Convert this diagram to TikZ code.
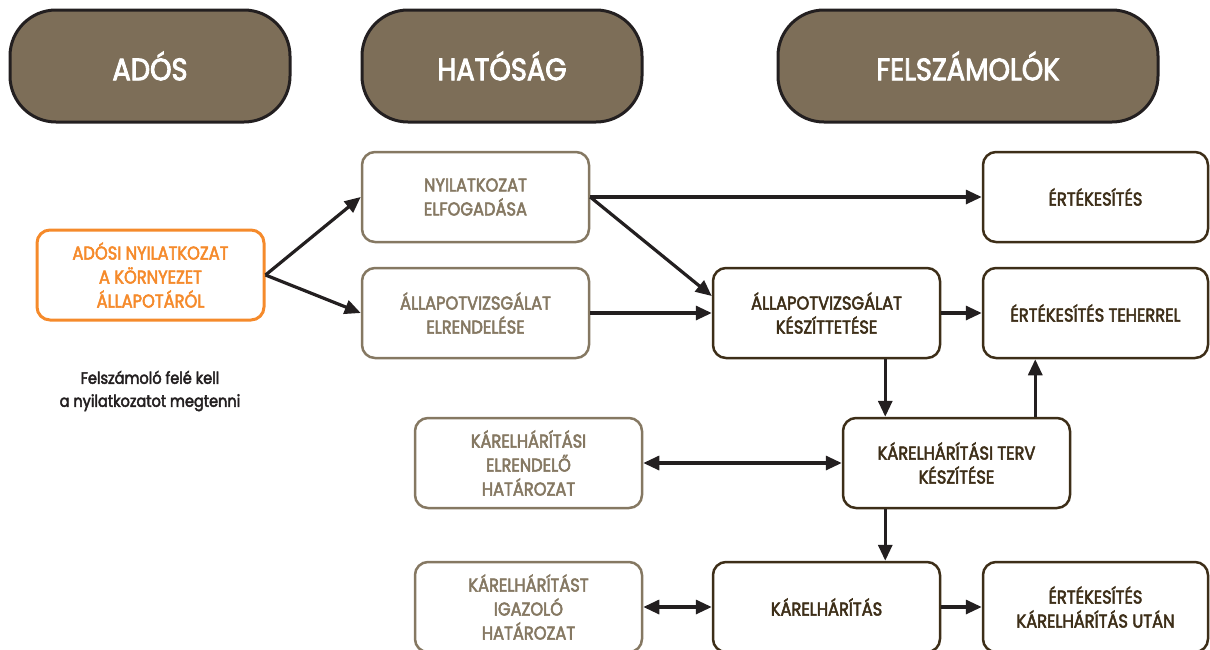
\documentclass[tikz,border=0pt]{standalone}
\usepackage{fontspec}
\setmainfont{Poppins}[FakeStretch=0.88]
\newfontfamily\medfont{Poppins}[FakeStretch=0.88,FakeBold=2.8]
\usetikzlibrary{arrows.meta}

\definecolor{headbrown}{HTML}{7D6E58}
\definecolor{lightbrown}{HTML}{857862}
\definecolor{darkbrown}{HTML}{3D2E18}
\definecolor{outline}{HTML}{231F20}
\definecolor{adosorange}{HTML}{F58A2B}

\begin{document}
\begin{tikzpicture}[x=1pt,y=1pt]
\tikzstyle{every node}+=[inner sep=0pt, align=center]
\tikzstyle{head}=[draw=outline, fill=headbrown, line width=3pt, rounded corners=46pt, minimum width=280pt, minimum height=112pt, text=white, font=\fontsize{31}{34}\medfont]
\tikzstyle{lightbox}=[draw=lightbrown, line width=2.5pt, rounded corners=13pt, minimum width=227pt, minimum height=90pt, text=lightbrown, font=\fontsize{18.5}{24}\medfont]
\tikzstyle{darkbox}=[lightbox, draw=darkbrown, text=darkbrown]
\tikzstyle{orangebox}=[lightbox, line width=3pt, draw=adosorange, text=adosorange]
\tikzstyle{arrow}=[line width=3.2pt, draw=outline, -{Triangle[length=16pt,width=14pt]}]
\tikzstyle{twoway}=[line width=3.2pt, draw=outline, {Triangle[length=16pt,width=14pt]}-{Triangle[length=16pt,width=14pt]}]
\useasboundingbox (0,0) rectangle (1210,-649);
% headers
\node [head] (hados) at (150,-66) {ADÓS};
\node [head] (hhat) at (502,-66) {HATÓSÁG};
\node [head, minimum width=380pt] (hfel) at (968,-66) {FELSZÁMOLÓK};
% adós
\node [orangebox] (nyilatkozat) at (150.5,-275) {ADÓSI NYILATKOZAT\\A KÖRNYEZET\\ÁLLAPOTÁRÓL};
\node [font=\fontsize{16.5}{23}\medfont, text=outline] (note) at (150,-391) {Felszámoló felé kell\\a nyilatkozatot megtenni};
% hatóság
\node [lightbox] (elfogadas) at (475.5,-197) {NYILATKOZAT\\ELFOGADÁSA};
\node [lightbox] (elrendeles) at (475.5,-313) {ÁLLAPOTVIZSGÁLAT\\ELRENDELÉSE};
\node [lightbox] (karelrend) at (528.5,-463) {KÁRELHÁRÍTÁSI\\ELRENDELŐ\\HATÁROZAT};
\node [lightbox] (karigazol) at (528.5,-607) {KÁRELHÁRÍTÁST\\IGAZOLÓ\\HATÁROZAT};
% felszámolók
\node [darkbox, minimum width=225pt] (ertek) at (1095.5,-197) {ÉRTÉKESÍTÉS};
\node [darkbox] (keszittet) at (826.5,-313) {ÁLLAPOTVIZSGÁLAT\\KÉSZÍTTETÉSE};
\node [darkbox, minimum width=225pt] (teherrel) at (1095.5,-313) {ÉRTÉKESÍTÉS TEHERREL};
\node [darkbox] (terv) at (956.5,-463) {KÁRELHÁRÍTÁSI TERV\\KÉSZÍTÉSE};
\node [darkbox] (karelh) at (826.5,-607) {KÁRELHÁRÍTÁS};
\node [darkbox, minimum width=225pt] (utan) at (1095.5,-607) {ÉRTÉKESÍTÉS\\KÁRELHÁRÍTÁS UTÁN};
% arrows
\draw [arrow] (nyilatkozat.east) -- (elfogadas.west);
\draw [arrow] (nyilatkozat.east) -- (elrendeles.west);
\draw [arrow] (elfogadas.east) -- (ertek.west);
\draw [arrow] (elfogadas.east) -- ([yshift=17pt]keszittet.west);
\draw [arrow] (elrendeles.east) -- (keszittet.west);
\draw [arrow] (keszittet.east) -- (teherrel.west);
\draw [arrow] ([xshift=-56pt]keszittet.south east) -- ([xshift=-56pt]keszittet.south east |- terv.north);
\draw [arrow] ([xshift=-36pt]terv.north east) -- ([xshift=-36pt]terv.north east |- teherrel.south);
\draw [twoway] (karelrend.east) -- (terv.west);
\draw [arrow] ([xshift=-56pt]keszittet.south east |- terv.south) -- ([xshift=-56pt]keszittet.south east |- karelh.north);
\draw [twoway] (karigazol.east) -- (karelh.west);
\draw [arrow] (karelh.east) -- (utan.west);
\end{tikzpicture}
\end{document}
